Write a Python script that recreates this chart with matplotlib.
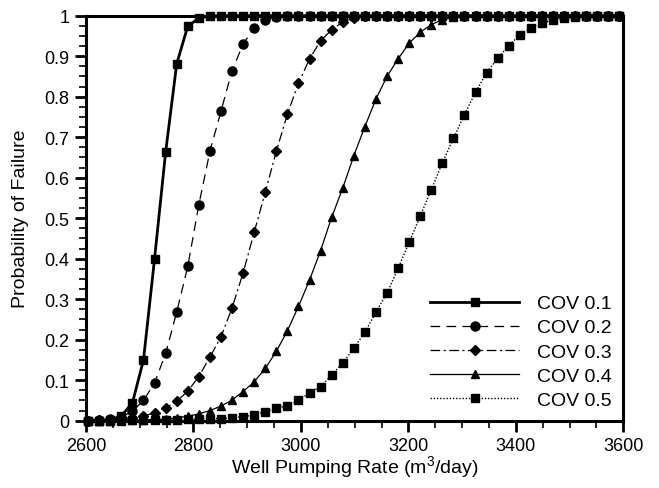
import matplotlib
matplotlib.use("Agg")
import matplotlib.pyplot as plt

plt.rcParams['font.family'] = ['Liberation Sans', 'DejaVu Sans']
plt.rcParams['lines.scale_dashes'] = False
plt.rcParams['mathtext.fontset'] = 'custom'
plt.rcParams['mathtext.rm'] = 'Liberation Sans'

# pumping rate grid (m3/day)
rate = [2604.0, 2624.6, 2645.2, 2665.8, 2686.4, 2707.0, 2727.6, 2748.2, 2768.8, 2789.4,
        2810.0, 2830.6, 2851.2, 2871.8, 2892.4, 2913.0, 2933.6, 2954.2, 2974.8, 2995.4,
        3016.0, 3036.6, 3057.2, 3077.8, 3098.4, 3119.0, 3139.6, 3160.2, 3180.8, 3201.4,
        3222.0, 3242.6, 3263.2, 3283.8, 3304.4, 3325.0, 3345.6, 3366.2, 3386.8, 3407.4,
        3428.0, 3448.6, 3469.2, 3489.8, 3510.4, 3531.0, 3551.6, 3572.2, 3592.8]

cov_01 = [0.0, 0.0, 0.002, 0.012, 0.044, 0.150, 0.400, 0.663, 0.881, 0.974,
          0.994, 0.999] + [1.0] * 37
cov_02 = [0.0, 0.001, 0.003, 0.009, 0.023, 0.050, 0.093, 0.166, 0.268, 0.381,
          0.533, 0.665, 0.764, 0.864, 0.930, 0.969, 0.990, 0.997, 0.999] + [1.0] * 30
cov_03 = [0.0, 0.001, 0.002, 0.004, 0.007, 0.011, 0.020, 0.031, 0.048, 0.073,
          0.109, 0.157, 0.207, 0.278, 0.365, 0.465, 0.564, 0.665, 0.757, 0.833,
          0.893, 0.938, 0.965, 0.984, 0.994, 0.998, 0.999] + [1.0] * 22
cov_04 = [0.0, 0.0, 0.0, 0.001, 0.001, 0.002, 0.003, 0.004, 0.007, 0.011,
          0.017, 0.025, 0.036, 0.051, 0.072, 0.096, 0.129, 0.171, 0.222, 0.282,
          0.347, 0.420, 0.502, 0.574, 0.654, 0.726, 0.794, 0.850, 0.893, 0.932,
          0.959, 0.978, 0.990, 0.996, 0.998, 0.999] + [1.0] * 13
cov_05 = [0.0, 0.0, 0.0, 0.0, 0.001, 0.001, 0.001, 0.002, 0.002, 0.003,
          0.004, 0.005, 0.005, 0.007, 0.010, 0.014, 0.022, 0.031, 0.037, 0.050,
          0.069, 0.084, 0.113, 0.142, 0.179, 0.218, 0.268, 0.315, 0.376, 0.440,
          0.505, 0.570, 0.636, 0.697, 0.756, 0.811, 0.859, 0.895, 0.926, 0.952,
          0.970, 0.982, 0.989, 0.994, 0.997, 0.999, 1.0, 1.0, 1.0]

labels = ['COV 0.1', 'COV 0.2', 'COV 0.3', 'COV 0.4', 'COV 0.5']
x_ticks = [2600, 2800, 3000, 3200, 3400, 3600]
y_ticks = [0, 0.1, 0.2, 0.3, 0.4, 0.5, 0.6, 0.7, 0.8, 0.9, 1]
y_ticklabels = ['0', '0.1', '0.2', '0.3', '0.4', '0.5', '0.6', '0.7', '0.8', '0.9', '1']

fig = plt.figure(figsize=(6.59, 4.89), dpi=100)
ax = fig.add_axes([0.1305, 0.1376, 0.8153, 0.8283])

styles = [
    dict(ls='-', lw=2.0, marker='s', ms=5.5),
    dict(ls=(0, (7, 4.5)), lw=0.9, marker='o', ms=6.5),
    dict(ls=(0, (7, 2.5, 1.5, 2.5)), lw=0.9, marker='D', ms=5),
    dict(ls='-', lw=0.9, marker='^', ms=6),
    dict(ls=(0, (1, 1.3)), lw=1.0, marker='s', ms=5.2),
]
series = [cov_01, cov_02, cov_03, cov_04, cov_05]
for ys, lab, st in zip(series, labels, styles):
    ax.plot(rate, ys, color='black', linestyle=st['ls'], linewidth=st['lw'],
            marker=st['marker'], markersize=st['ms'], markerfacecolor='black',
            markeredgecolor='black', label=lab, clip_on=False, zorder=3)

ax.set_xlim(2600, 3600)
ax.set_ylim(0, 1)
ax.set_xticks(x_ticks)
ax.set_xticks(range(2600, 3601, 50), minor=True)
ax.set_yticks(y_ticks)
ax.set_yticklabels(y_ticklabels)
ax.set_yticks([i * 0.025 for i in range(41)], minor=True)
ax.tick_params(which='major', direction='out', length=8, width=2, labelsize=13, pad=4)
ax.tick_params(which='minor', direction='out', length=5, width=1.2)
for sp in ax.spines.values():
    sp.set_linewidth(2.2)
    sp.set_zorder(4)

ax.set_xlabel('Well Pumping Rate (m$^3$/day)', fontsize=14, labelpad=-1)
ax.set_ylabel('Probability of Failure', fontsize=14, labelpad=11)

leg = ax.legend(loc='lower left', bbox_to_anchor=(0.64, 0.03), frameon=False,
                fontsize=14, handlelength=4.6, handletextpad=0.9,
                labelspacing=0.33, borderpad=0, borderaxespad=0)

fig.savefig('out.png', dpi=100)
